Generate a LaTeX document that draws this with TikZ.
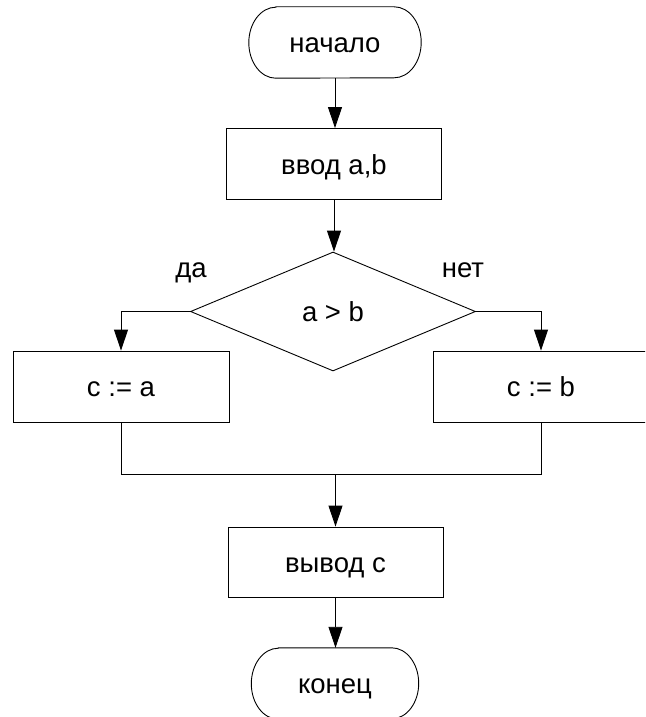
\documentclass[tikz,border=0pt]{standalone}
\usepackage{fontspec}
\setmainfont{Liberation Sans}
\usetikzlibrary{shapes.geometric,arrows.meta}
\begin{document}
\begin{tikzpicture}[x=1pt,y=-1pt,
  every node/.style={font=\fontsize{27.5}{33}\selectfont, inner sep=0pt},
  line/.style={line width=0.9pt, draw=black},
  arr/.style={line, -{Triangle[length=21pt,width=14pt]}},
  stepbox/.style={line, rectangle, minimum height=71pt, text height=20pt, text depth=0pt},
  termbox/.style={rectangle, minimum width=172pt, minimum height=71pt, text height=20pt, text depth=0pt},
  decbox/.style={line, diamond, minimum width=285pt, minimum height=119pt, text height=20pt, text depth=0pt},
  lbl/.style={anchor=base}]
\useasboundingbox (0,0) rectangle (645,717);
\clip (0,0) rectangle (645,717);

\node[termbox] (start) at (335,42.5) {начало};
\node[stepbox, minimum width=215pt] (inp) at (334,164) {ввод a,b};
\node[decbox] (dec) at (333,311.5) {a > b};
\node[lbl] (yes) at (191,277) {да};
\node[lbl] (no) at (463,277) {нет};
\node[stepbox, minimum width=216pt] (la) at (121,386.5) {c := a};
\node[stepbox, minimum width=216pt] (rb) at (541,386.5) {c := b};
\node[stepbox, minimum width=215pt, minimum height=70pt] (out) at (335.5,562) {вывод c};
\node[termbox, minimum width=167pt] (stop) at (335,683.5) {конец};
\coordinate (m) at (335.5,474);

% terminal outlines
\foreach \t in {start,stop}{
  \draw[line] ([xshift=27pt]\t.north west) -- ([xshift=-27pt]\t.north east)
    arc[start angle=90,end angle=-90,x radius=27pt,y radius=35.5pt]
    -- ([xshift=27pt]\t.south west)
    arc[start angle=270,end angle=90,x radius=27pt,y radius=35.5pt] -- cycle;
}

\draw[arr] (start.south) -- (start.south |- inp.north);
\draw[arr] (inp.south) -- (inp.south |- dec.north);
\draw[arr] (dec.west) -| (la.north);
\draw[arr] (dec.east) -| (rb.north);
\draw[line] (la.south) -- (la.south |- m) -- (rb.south |- m) -- (rb.south);
\draw[arr] (m) -- (out.north);
\draw[arr] (out.south) -- (out.south |- stop.north);
\end{tikzpicture}
\end{document}
